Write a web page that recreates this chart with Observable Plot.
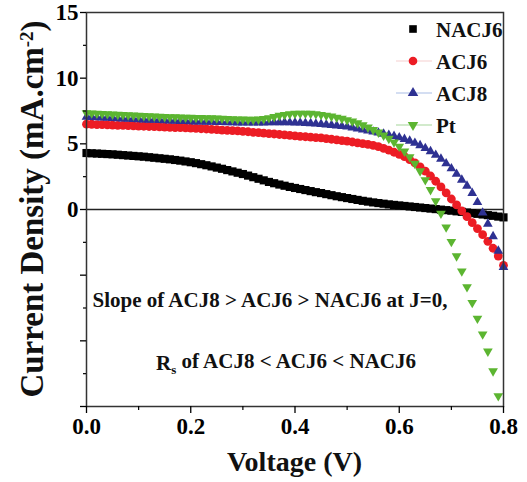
<!DOCTYPE html>
<html><head><meta charset="utf-8">
<script src="https://cdn.jsdelivr.net/npm/d3@7"></script>
<script src="https://cdn.jsdelivr.net/npm/@observablehq/plot@0.6"></script>
<style>body{margin:0;background:#fff}#chart{width:527px;height:482px}</style>
</head><body><div id="chart"></div>
<script>
const voltage = [0.00,0.01,0.02,0.03,0.04,0.05,0.06,0.07,0.08,0.09,
0.10,0.11,0.12,0.13,0.14,0.15,0.16,0.17,0.18,0.19,
0.20,0.21,0.22,0.23,0.24,0.25,0.26,0.27,0.28,0.29,
0.30,0.31,0.32,0.33,0.34,0.35,0.36,0.37,0.38,0.39,
0.40,0.41,0.42,0.43,0.44,0.45,0.46,0.47,0.48,0.49,
0.50,0.51,0.52,0.53,0.54,0.55,0.56,0.57,0.58,0.59,
0.60,0.61,0.62,0.63,0.64,0.65,0.66,0.67,0.68,0.69,
0.70,0.71,0.72,0.73,0.74,0.75,0.76,0.77,0.78,0.79,0.80];

const NACJ6 = [4.30,4.28,4.26,4.24,4.22,4.20,4.17,4.14,4.11,4.08,
4.05,4.02,3.98,3.94,3.90,3.86,3.82,3.77,3.72,3.66,
3.60,3.53,3.45,3.37,3.28,3.19,3.10,3.00,2.90,2.80,
2.70,2.58,2.46,2.34,2.22,2.10,2.00,1.90,1.81,1.72,
1.64,1.56,1.48,1.40,1.32,1.25,1.17,1.09,1.01,0.94,
0.87,0.80,0.73,0.66,0.60,0.54,0.49,0.44,0.39,0.35,
0.31,0.27,0.23,0.19,0.15,0.11,0.07,0.03,-0.01,-0.05,
-0.09,-0.14,-0.18,-0.23,-0.28,-0.33,-0.38,-0.43,-0.48,-0.54,-0.60];

const ACJ6 = [6.50,6.49,6.47,6.46,6.44,6.43,6.41,6.40,6.38,6.37,
6.35,6.34,6.32,6.31,6.29,6.28,6.26,6.24,6.23,6.21,
6.20,6.18,6.15,6.13,6.10,6.08,6.05,6.03,6.00,5.98,
5.95,5.92,5.88,5.85,5.82,5.78,5.75,5.71,5.68,5.64,
5.60,5.57,5.54,5.51,5.48,5.45,5.40,5.35,5.30,5.25,
5.20,5.14,5.08,5.02,4.96,4.88,4.78,4.66,4.52,4.36,
4.20,4.02,3.80,3.55,3.25,2.92,2.55,2.15,1.72,1.27,
0.80,0.35,-0.10,-0.55,-1.00,-1.45,-1.92,-2.42,-2.95,-3.55,-4.25];

const ACJ8 = [7.05,7.03,7.01,6.99,6.97,6.95,6.93,6.91,6.89,6.87,
6.85,6.84,6.82,6.81,6.79,6.78,6.76,6.75,6.73,6.72,
6.70,6.69,6.68,6.67,6.66,6.65,6.64,6.63,6.62,6.61,
6.60,6.60,6.60,6.60,6.61,6.62,6.63,6.63,6.63,6.62,
6.61,6.60,6.58,6.56,6.53,6.50,6.46,6.42,6.38,6.34,
6.30,6.23,6.16,6.08,6.00,5.92,5.84,5.76,5.67,5.58,
5.48,5.36,5.22,5.06,4.88,4.66,4.42,4.15,3.85,3.50,
3.12,2.70,2.25,1.80,1.25,0.55,-0.25,-1.10,-2.05,-3.15,-4.40];

const Pt = [7.35,7.33,7.31,7.29,7.27,7.25,7.23,7.21,7.19,7.17,
7.15,7.13,7.11,7.09,7.07,7.05,7.04,7.03,7.02,7.01,
7.00,6.99,6.98,6.97,6.96,6.95,6.93,6.91,6.89,6.87,
6.86,6.85,6.85,6.86,6.90,6.97,7.06,7.15,7.22,7.27,
7.30,7.31,7.31,7.30,7.27,7.22,7.16,7.09,7.01,6.92,
6.82,6.71,6.58,6.43,6.26,6.07,5.87,5.65,5.40,5.12,
4.80,4.43,4.00,3.50,2.92,2.25,1.50,0.65,-0.30,-1.35,
-2.45,-3.55,-4.70,-5.90,-7.10,-8.30,-9.50,-10.80,-12.30,-14.20];

const seriesNames = ["NACJ6","ACJ6","ACJ8","Pt"];
const seriesColors = ["#000000","#ec1c24","#2e3192","#5cb531"];
const legendLineColors = [null,"#f6d0d0","#a9bde6","#a6d69a"];
const xMajorTicks = [0,0.2,0.4,0.6,0.8];
const xMinorTicks = [0.1,0.3,0.5,0.7];
const yLabelTicks = [0,5,10,15];
const yMajorTicks = [-15,-10,-5];
const yMinorTicks = [-12.5,-7.5,-2.5,2.5,7.5,12.5];
const annotation1 = "Slope of ACJ8 > ACJ6 > NACJ6 at J=0,";

const toRows = (vals) => vals.map((j, i) => ({v: voltage[i], j}));

const triangleDown = {
  draw(context, size) {
    const y = -Math.sqrt(size / (Math.sqrt(3) * 3));
    const s3 = Math.sqrt(3);
    context.moveTo(0, -y * 2);
    context.lineTo(-s3 * y, y);
    context.lineTo(s3 * y, y);
    context.closePath();
  }
};

const font = "Liberation Serif, Times New Roman, serif";

const chart = Plot.plot({
  width: 527,
  height: 482,
  marginLeft: 86,
  marginRight: 24,
  marginTop: 12,
  marginBottom: 76,
  style: {fontFamily: font, fontWeight: "bold", background: "#fff", color: "#000"},
  x: {domain: [0, 0.8]},
  y: {domain: [-15, 15]},
  marks: [
    Plot.ruleY([0], {stroke: "#222", strokeWidth: 1.6}),
    Plot.dot(toRows(NACJ6), {x: "v", y: "j", symbol: "square", r: 4.6, fill: seriesColors[0], stroke: "none"}),
    Plot.dot(toRows(ACJ6), {x: "v", y: "j", symbol: "circle", r: 4.4, fill: seriesColors[1], stroke: "none"}),
    Plot.dot(toRows(ACJ8), {x: "v", y: "j", symbol: "triangle", r: 3.6, fill: seriesColors[2], stroke: "none"}),
    Plot.dot(toRows(Pt), {x: "v", y: "j", symbol: triangleDown, r: 3.6, fill: seriesColors[3], stroke: "none"}),
    Plot.frame({stroke: "#333", strokeWidth: 1.5}),
    Plot.axisX(xMajorTicks, {tickSize: 7, tickPadding: 4, tickFormat: d3.format(".1f"), fontSize: 23, fontFamily: font, fontWeight: "bold", label: null, strokeWidth: 1.3}),
    Plot.axisX(xMinorTicks, {tickSize: 4, tickFormat: () => "", label: null, strokeWidth: 1.2}),
    Plot.axisY(yLabelTicks, {tickSize: 6, tickPadding: 2, tickFormat: d3.format("d"), fontSize: 23, fontFamily: font, fontWeight: "bold", label: null, strokeWidth: 1.3}),
    Plot.axisY(yMajorTicks, {tickSize: 6, tickFormat: () => "", label: null, strokeWidth: 1.3}),
    Plot.axisY(yMinorTicks, {tickSize: 3, tickFormat: () => "", label: null, strokeWidth: 1.2})
  ]
});

document.getElementById("chart").appendChild(chart);

const svg = d3.select(chart);

function addText(sel, size) {
  return sel.style("font-family", font).style("font-weight", "bold")
    .style("font-size", size + "px").attr("fill", "#111");
}

// axis titles
addText(svg.append("text"), 28)
  .attr("x", 294.5).attr("y", 471)
  .attr("text-anchor", "middle")
  .text("Voltage (V)");

const yt = addText(svg.append("text"), 33)
  .attr("transform", "translate(43,209) rotate(-90)")
  .attr("text-anchor", "middle");
yt.append("tspan").text("Current Density (mA.cm");
yt.append("tspan").attr("dy", "-0.55em").style("font-size", "19px").text("-2");
yt.append("tspan").attr("dy", "0.35em").text(")");

// legend
const legendRowsY = [29, 61, 93, 125];
const legendSymbols = [d3.symbolSquare, d3.symbolCircle, d3.symbolTriangle, triangleDown];
const legendR = [4.3, 4.3, 3.9, 3.9];
const lg = svg.append("g");
seriesNames.forEach((name, i) => {
  const y = legendRowsY[i];
  if (legendLineColors[i]) {
    lg.append("line").attr("x1", 396).attr("x2", 432).attr("y1", y).attr("y2", y)
      .attr("stroke", legendLineColors[i]).attr("stroke-width", 1.2);
  }
  lg.append("path")
    .attr("d", d3.symbol(legendSymbols[i], Math.PI * legendR[i] * legendR[i])())
    .attr("transform", `translate(413,${y})`)
    .attr("fill", seriesColors[i]);
  addText(lg.append("text"), 21)
    .attr("x", 436).attr("y", y).attr("dy", "0.36em")
    .attr("text-anchor", "start")
    .text(name);
});

// annotation
addText(svg.append("text"), 21)
  .attr("x", 270).attr("y", 307).attr("text-anchor", "middle")
  .text(annotation1);
const a2 = addText(svg.append("text"), 21)
  .attr("x", 286).attr("y", 370).attr("text-anchor", "middle");
a2.append("tspan").text("R");
a2.append("tspan").attr("dy", "0.3em").style("font-size", "13px").text("s");
a2.append("tspan").attr("dy", "-0.3em").text(" of ACJ8 < ACJ6 < NACJ6");
</script>
</body></html>
